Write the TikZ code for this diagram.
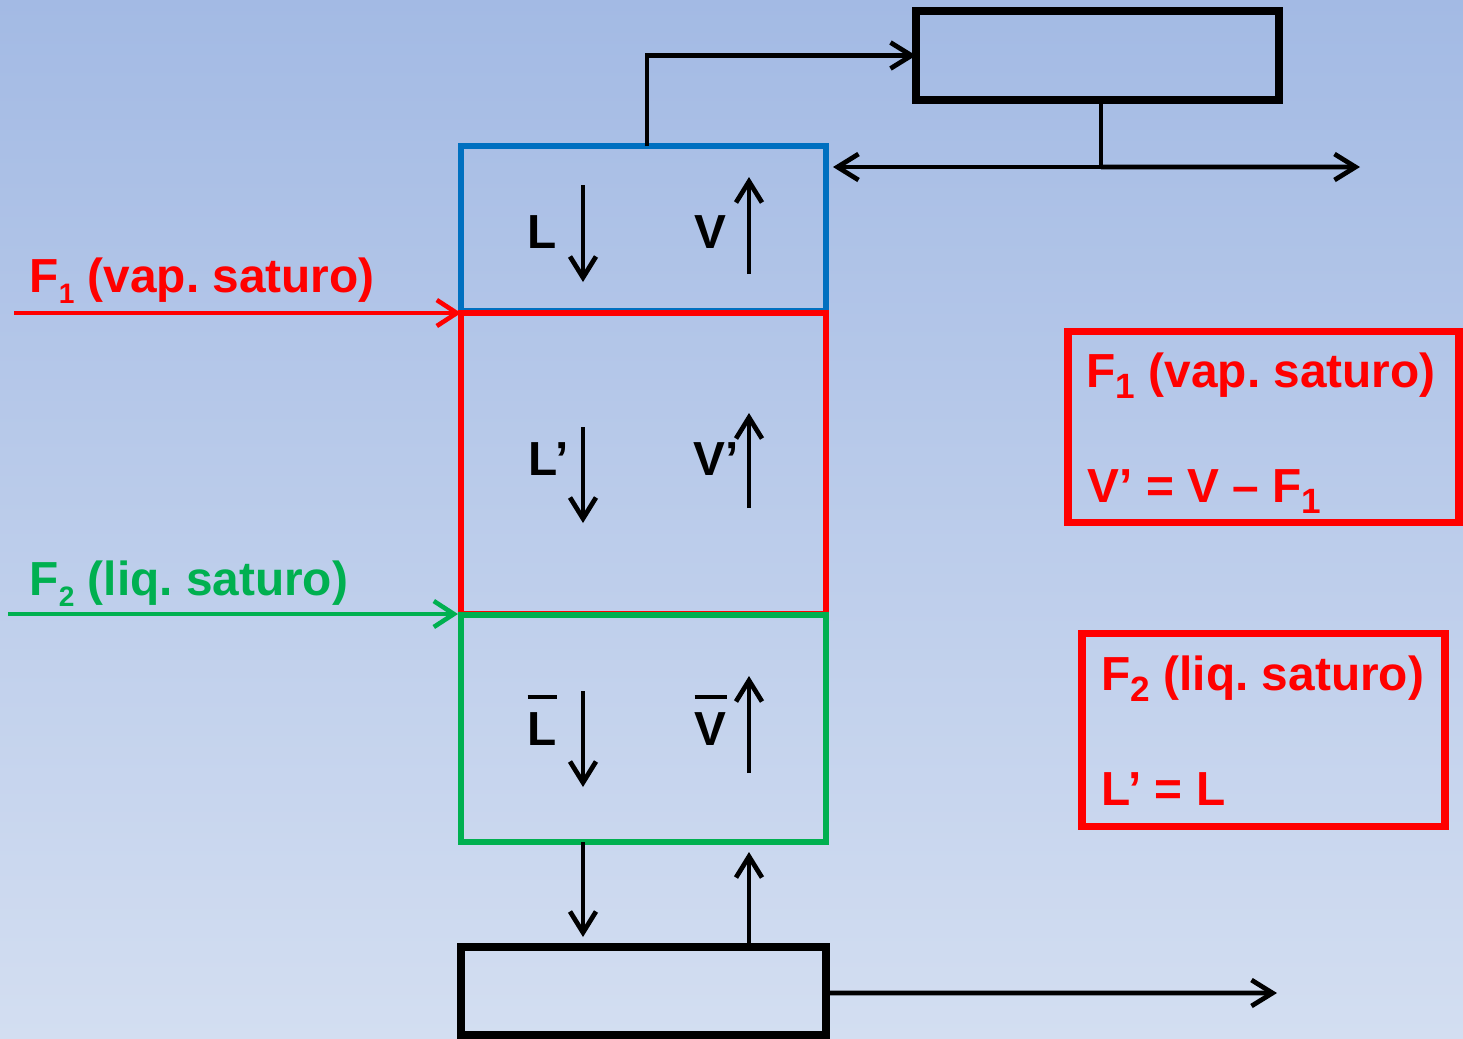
\documentclass[tikz,border=0pt]{standalone}
\usepackage{fontspec}
\setmainfont{Liberation Sans}
\usepackage{tikz}
\usetikzlibrary{arrows.meta,positioning,calc}
\definecolor{feedred}{HTML}{FF0000}
\definecolor{feedgreen}{HTML}{00B050}
\definecolor{topblue}{HTML}{0070C0}
\definecolor{bgtop}{HTML}{A3BAE4}
\definecolor{bgbottom}{HTML}{D3DEF1}
\frenchspacing
\newcommand{\idx}[2][8]{\raisebox{-3.3pt}{\fontsize{#1}{#1}\selectfont #2}}
\newcommand{\barred}[1]{\setbox0\hbox{#1}\rlap{\rule[\dimexpr\ht0+1.3mm\relax]{\wd0}{0.45mm}}\box0}

\begin{document}
\begin{tikzpicture}[
    font=\bfseries\fontsize{13.6}{16}\selectfont,
    sec/.style={draw, line width=1.8pt, minimum width=3.65cm, inner sep=0pt, outer sep=0pt},
    unit/.style={draw=black, line width=2.3pt, inner sep=0pt, outer sep=0pt},
    note/.style={draw=feedred, line width=2pt, inner sep=0pt, outer sep=0pt},
    lab/.style={anchor=base west, inner sep=0pt},
    flow/.style={line width=1.35pt, -{Straight Barb[length=2.1mm,width=2.6mm]}},
    feed/.style={line width=1.3pt, -{Straight Barb[length=2mm,width=2.6mm]}}]
  % Background
  \shade[top color=bgtop, bottom color=bgbottom] (0,0) rectangle (14.63,-10.38);
  \useasboundingbox (0,0) rectangle (14.63,-10.38);

  % Column sections
  \node[sec, draw=topblue, minimum height=1.65cm] (top) at (6.435,-2.285) {};
  \node[sec, draw=feedred, minimum height=3.01cm] (mid) at (6.435,-4.635) {};
  \node[sec, draw=feedgreen, minimum height=2.27cm] (bot) at (6.435,-7.285) {};

  % Condenser and reboiler
  \node[unit, minimum width=3.63cm, minimum height=0.89cm] (cond) at (10.975,-0.555) {};
  \node[unit, minimum width=3.65cm, minimum height=0.88cm] (reb) at (6.435,-9.91) {};

  % Vapour to condenser, reflux and distillate
  \draw[flow] ($(top.north)+(0.035,0)$) |- (cond.west);
  \coordinate (split) at ($(cond.south)+(0.035,-0.67)$);
  \coordinate (distil) at (13.6,-1.67);
  \draw[line width=1.35pt] (cond.south -| split) -- (split);
  \draw[flow] (split) -- ($(split -| top.east)+(0.07,0)$);
  \draw[flow] (split) -- (distil);

  % Feeds
  \coordinate (f1in) at (0.14,-3.13);
  \coordinate (f2in) at (0.08,-6.14);
  \draw[feed, draw=feedred] (f1in) -- (f1in -| mid.west);
  \draw[feed, draw=feedgreen] (f2in) -- ($(f2in -| bot.west)+(-0.03,0)$);
  \node[lab, text=feedred] (f1lab) at (0.29,-2.92) {F\idx{1} (vap. saturo)};
  \node[lab, text=feedgreen] (f2lab) at (0.29,-5.95) {F\idx{2} (liq. saturo)};

  % Internal flows
  \node[lab] (Ltop) at (5.27,-2.48) {L};
  \node[lab] (Vtop) at (6.94,-2.48) {V};
  \draw[flow] (5.83,-1.85) -- (5.83,-2.82);
  \draw[flow] (7.49,-2.74) -- (7.49,-1.77);

  \node[lab] (Lmid) at (5.28,-4.75) {L’};
  \node[lab] (Vmid) at (6.93,-4.75) {V’};
  \draw[flow] (5.83,-4.27) -- (5.83,-5.23);
  \draw[flow] (7.49,-5.08) -- (7.49,-4.13);

  \node[lab] (Lbot) at (5.27,-7.45) {\barred{L}};
  \node[lab] (Vbot) at (6.94,-7.45) {\barred{V}};
  \draw[flow] (5.83,-6.91) -- (5.83,-7.87);
  \draw[flow] (7.49,-7.73) -- (7.49,-6.76);

  % Bottoms
  \coordinate (botout) at (12.77,-9.93);
  \draw[flow] ($(bot.south)+(-0.605,0)$) -- ($(reb.north)+(-0.605,0.1)$);
  \draw[flow] ($(reb.north)+(1.055,0)$) -- ($(bot.south)+(1.055,-0.1)$);
  \draw[flow] ($(reb.east)+(0.04,-0.02)$) -- (botout);

  % Balance notes
  \node[note, minimum width=3.91cm, minimum height=1.91cm] (note1) at (12.635,-4.265) {};
  \node[note, minimum width=3.63cm, minimum height=1.93cm] (note2) at (12.635,-7.295) {};
  \node[lab, text=feedred] (n1a) at (10.86,-3.87) {F\idx[10]{1} (vap. saturo)};
  \node[lab, text=feedred] (n1b) at (10.87,-5.02) {V’ = V – F\idx[10]{1}};
  \node[lab, text=feedred] (n2a) at (11.01,-6.90) {F\idx[10]{2} (liq. saturo)};
  \node[lab, text=feedred] (n2b) at (11.01,-8.05) {L’ = L};
\end{tikzpicture}
\end{document}
